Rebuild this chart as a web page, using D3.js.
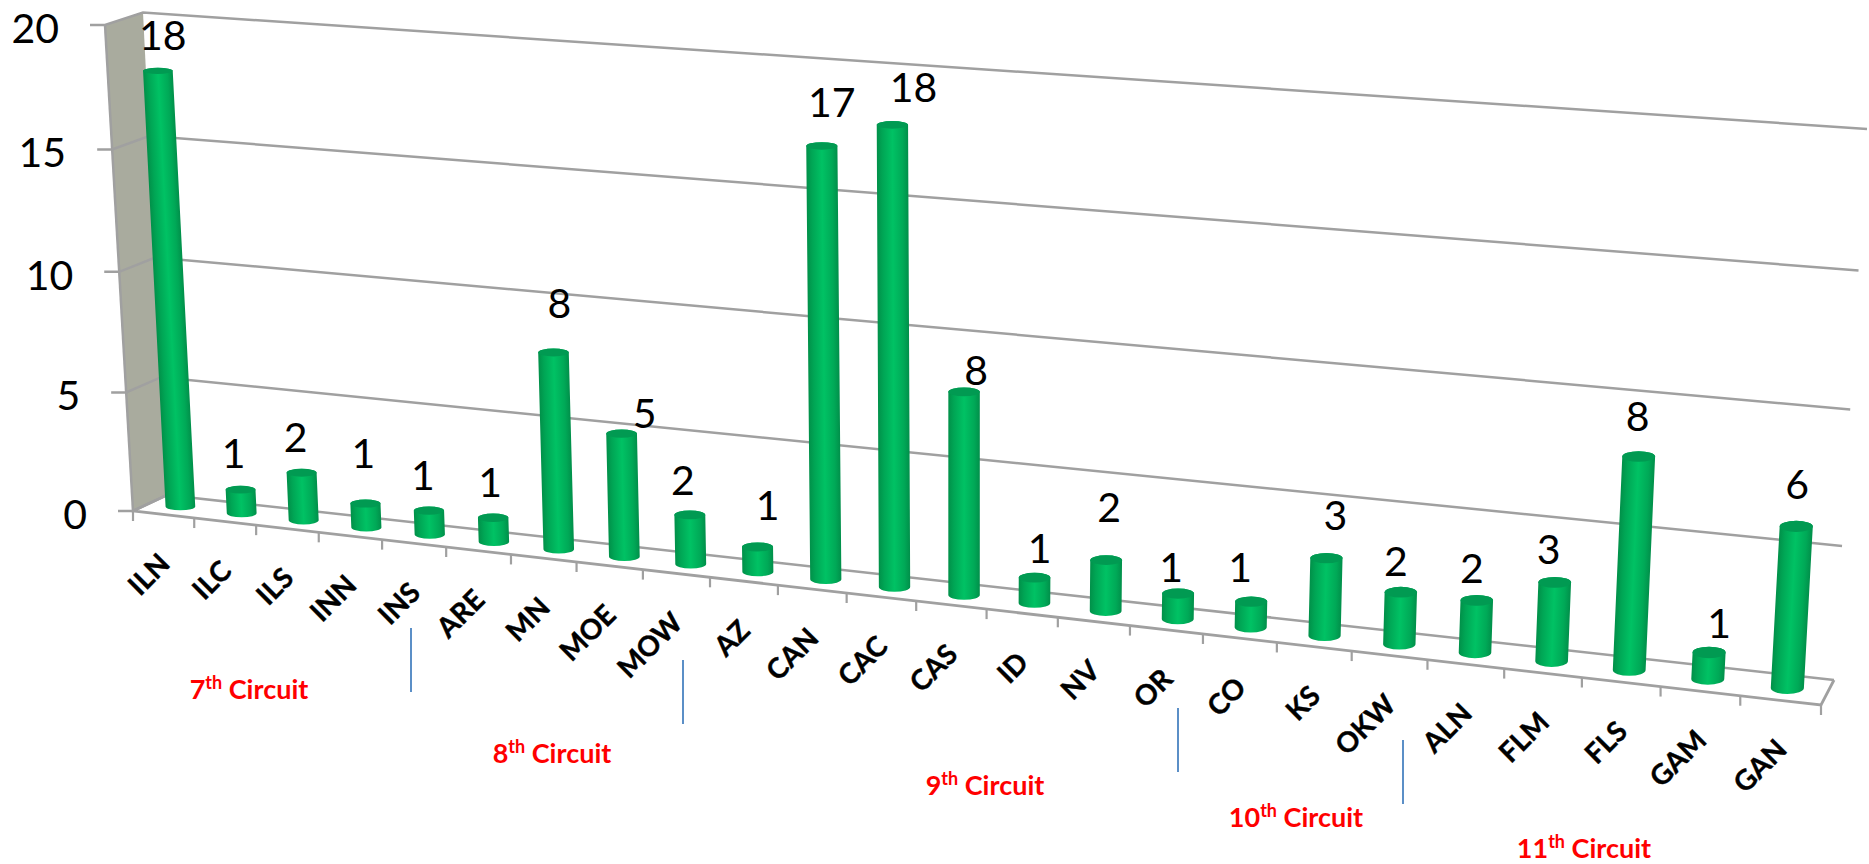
<!DOCTYPE html>
<html><head><meta charset="utf-8">
<script src="https://cdn.jsdelivr.net/npm/d3@7"></script>
<style>html,body{margin:0;padding:0;background:#fff;overflow:hidden}text{font-family:Lato,"Open Sans",sans-serif}</style>
</head><body><svg id="c" width="1869" height="864"></svg>
<script>
// ---- data ----
const categories = ["ILN","ILC","ILS","INN","INS","ARE","MN","MOE","MOW","AZ","CAN","CAC","CAS","ID","NV","OR","CO","KS","OKW","ALN","FLM","FLS","GAM","GAN"];
const seriesValues = [18,1,2,1,1,1,8,5,2,1,17,18,8,1,2,1,1,3,2,2,3,8,1,6];
const circuitNames = ["7","8","9","10","11"];
// ---- hand-placed annotation layout of the source chart ----
const labelDx = [5,-7,-6,-2,-6,-3,6,23,-7,10,10,21,12,5,3,-7,-11,9,-5,-5,-6,-1,10,1];
const labelDy = [-35,-36,-35,-50,-35,-35,-49,-20,-34,-41,-43,-37,-21,-29,-53,-26,-34,-43,-31,-32,-33,-40,-29,-42];
const circuitX = [249,552,985,1296,1584];
const circuitBase = [699,763,795,827,858];
const sepX = [411,683,1178,1403];
const sepTop = [628,660,708,740];
const sepLen = 64;

// ---- scene planes (pixel corners of the 3-D box as drawn) ----
const backQuad  = [[167,495],[1834,680],[1867,129],[143,12.5]];
const frontQuad = [[133,511],[1821,705],[1852,148],[105,25]];

function homography(q){
  const [[x0,y0],[x1,y1],[x2,y2],[x3,y3]] = q;
  const dx1=x1-x2,dx2=x3-x2,sx=x0-x1+x2-x3,dy1=y1-y2,dy2=y3-y2,sy=y0-y1+y2-y3;
  const den=dx1*dy2-dx2*dy1;
  const g=(sx*dy2-dx2*sy)/den,h=(dx1*sy-sx*dy1)/den;
  const a=x1-x0+g*x1,b=x3-x0+h*x3,c=x0,d=y1-y0+g*y1,e=y3-y0+h*y3,f=y0;
  return (u,v)=>{const w=g*u+h*v+1;return [(a*u+b*v+c)/w,(d*u+e*v+f)/w];};
}
const back=homography(backQuad), front=homography(frontQuad);
// depth: 0 = back wall, 1 = front edge
const project=(u,v,z)=>{const b=back(u,v),f=front(u,v);return [b[0]+(f[0]-b[0])*z,b[1]+(f[1]-b[1])*z];};

const xScale=d3.scaleBand().domain(categories).range([0,1]);
const yScale=d3.scaleLinear().domain([0,20]).range([0,1]);
const rxScale=d3.scaleLinear().domain([0,1]).range([14.8,16.6]);
const barDepth=0.5, radiusDepth=0.24;

const gridColor="#a0a0a0";
const svg=d3.select("#c");
const defs=svg.append("defs");
const path=pts=>"M"+pts.map(p=>p.join(",")).join("L");

// left wall
svg.append("path").attr("d",path([front(0,1),back(0,1),back(0,0),front(0,0)])+"Z").attr("fill","#a9ab9e");
svg.append("path").attr("d",path([front(0,1),front(0,0)])).attr("stroke",gridColor).attr("stroke-width",2.5).attr("fill","none");

// gridlines, wall lines and value ticks
const yTicks=yScale.ticks(4);
svg.append("g").selectAll("path").data(yTicks).join("path")
  .attr("d",t=>{const v=yScale(t),f=front(0,v);
    return path([[f[0]-15,f[1]],f,back(0,v),back(1,v)]);})
  .attr("fill","none").attr("stroke",gridColor).attr("stroke-width",2.5);
svg.append("g").selectAll("text").data(yTicks).join("text")
  .attr("x",t=>front(0,yScale(t))[0]-46)
  .attr("y",t=>front(0,yScale(t))[1]+18)
  .attr("text-anchor","end").attr("font-size",41).attr("fill","#000").text(d3.format("d"));

// floor
svg.append("path").attr("d",path([back(1,0),front(1,0),front(0,0),back(0,0)]))
  .attr("fill","none").attr("stroke",gridColor).attr("stroke-width",2.8);
const tickPos=categories.map((c,i)=>xScale(c)).concat([1]);
svg.append("g").selectAll("path").data(tickPos).join("path")
  .attr("d",u=>{const p=front(u,0);return path([p,[p[0],p[1]+10]]);})
  .attr("stroke",gridColor).attr("stroke-width",2.2);

// cylinders
const bars=categories.map((c,i)=>{
  const u=xScale(c)+xScale.bandwidth()/2, v=yScale(seriesValues[i]);
  const base=project(u,0,barDepth), top=project(u,v,barDepth);
  const ryAt=w=>Math.abs(front(u,w)[1]-back(u,w)[1])*radiusDepth;
  return {i,c,u,base,top,rx:rxScale(u),ryB:ryAt(0),ryT:ryAt(v),value:seriesValues[i]};
});
const grads=defs.selectAll("linearGradient").data(bars).join("linearGradient")
  .attr("id",d=>"g"+d.i).attr("gradientUnits","userSpaceOnUse")
  .each(function(d){
    const ax=d.top[0]-d.base[0],ay=d.top[1]-d.base[1],L=Math.hypot(ax,ay);
    const nx=-ay/L*d.rx,ny=ax/L*d.rx;
    d3.select(this).attr("x1",d.top[0]-nx).attr("y1",d.top[1]-ny).attr("x2",d.top[0]+nx).attr("y2",d.top[1]+ny);
  });
grads.selectAll("stop").data([[0,"#019049"],[0.18,"#00a655"],[0.5,"#00c264"],[0.82,"#00a957"],[1,"#018f4a"]]).join("stop")
  .attr("offset",d=>d[0]).attr("stop-color",d=>d[1]);
const gBars=svg.append("g").selectAll("g").data(bars).join("g");
gBars.append("path").attr("fill",d=>`url(#g${d.i})`)
  .attr("d",d=>{
    const [tx,ty]=d.top,[bx,by]=d.base,r=d.rx;
    return `M${tx-r},${ty}L${bx-r},${by}A${r},${d.ryB} 0 0 0 ${bx+r},${by}L${tx+r},${ty}A${r},${d.ryT} 0 0 0 ${tx-r},${ty}Z`;
  });
gBars.append("ellipse").attr("cx",d=>d.top[0]).attr("cy",d=>d.top[1]).attr("rx",d=>d.rx).attr("ry",d=>d.ryT).attr("fill","#019a52");

// value labels
svg.append("g").selectAll("text").data(bars).join("text")
  .attr("x",d=>d.top[0]+labelDx[d.i]).attr("y",d=>d.top[1]+labelDy[d.i]+14.5)
  .attr("text-anchor","middle").attr("font-size",41).attr("fill","#000").text(d=>d.value);

// category labels
svg.append("g").selectAll("text").data(bars).join("text")
  .attr("transform",d=>{const p=front(d.u,0);return `translate(${p[0]+8},${p[1]+51}) rotate(-45)`;})
  .attr("text-anchor","end").attr("font-size",28).attr("font-weight",700)
  .attr("stroke","#000").attr("stroke-width",0.4).attr("fill","#000").text(d=>d.c);

// circuit separators
svg.append("g").selectAll("line").data(sepX).join("line")
  .attr("x1",d=>d).attr("x2",d=>d).attr("y1",(d,i)=>sepTop[i]).attr("y2",(d,i)=>sepTop[i]+sepLen)
  .attr("stroke","#5b8fc7").attr("stroke-width",2);

// circuit labels
const ct=svg.append("g").selectAll("text").data(circuitNames).join("text")
  .attr("x",(d,i)=>circuitX[i]).attr("y",(d,i)=>circuitBase[i])
  .attr("text-anchor","middle").attr("font-size",27).attr("font-weight",700).attr("fill","#ff0000");
ct.append("tspan").text(d=>d);
ct.append("tspan").attr("dy",-10).attr("font-size",18).text("th");
ct.append("tspan").attr("dy",10).text(" Circuit");
</script></body></html>
